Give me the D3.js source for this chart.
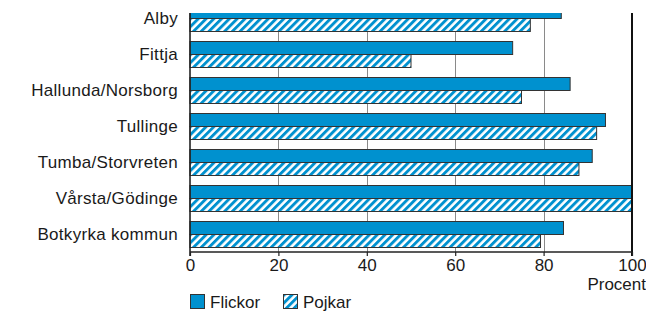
<!DOCTYPE html>
<html>
<head>
  <meta charset="utf-8" />
  <title>Flickor / Pojkar per område</title>
  <style>
    body { margin: 0; background: #fff; }
    text { font-family: "Liberation Sans", Arial, sans-serif; fill: #1a1a1a; }
    .grid line { stroke: #8a8a8a; stroke-width: 1; }
    .bar { stroke: #333; stroke-width: 1; }
  </style>
</head>
<body>
  <div id="container"></div>
  <script src="https://d3js.org/d3.v7.min.js"></script>
  <script>

// data
var areas = ["Alby", "Fittja", "Hallunda/Norsborg", "Tullinge", "Tumba/Storvreten", "Vårsta/Gödinge", "Botkyrka kommun"];
var series = ["Flickor", "Pojkar"];
var flickor = [84, 73, 86, 94, 91, 100, 84.5];
var pojkar  = [77, 50, 75, 92, 88, 100, 79.3];
var ticks = [0, 20, 40, 60, 80, 100];

var w = 646, h = 311;
var mLeft = 190, mRight = 632, mTop = 0, axisY = 252;
var fs = 17;
var blue = "#0091cf";

var svg = d3.select("#container").append("svg")
  .attr("width", w)
  .attr("height", h);

var defs = svg.append("defs");
var pat = defs.append("pattern")
  .attr("id", "hatch")
  .attr("patternUnits", "userSpaceOnUse")
  .attr("width", 5.5)
  .attr("height", 5.5)
  .attr("patternTransform", "rotate(45)");
pat.append("rect").attr("width", 5.5).attr("height", 5.5).attr("fill", "#fff");
pat.append("rect").attr("width", 2.9).attr("height", 5.5).attr("fill", blue);

// the original picture is cut off at the top
defs.append("clipPath").attr("id", "cut")
  .append("rect").attr("x", 0).attr("y", 13).attr("width", w).attr("height", h);

var x = d3.scaleLinear().domain([0, 100]).range([mLeft, mRight]);
var y = d3.scaleBand().domain(areas).range([mTop, axisY])
  .paddingInner(10 / 36).paddingOuter(5 / 36);
var y2 = d3.scaleBand().domain(series).range([0, y.bandwidth()]);

var g = svg.append("g").attr("clip-path", "url(#cut)");

// grid
g.append("g").attr("class", "grid")
  .selectAll("line")
  .data(ticks.slice(1, -1))
  .join("line")
  .attr("x1", d => Math.round(x(d)) + 0.5)
  .attr("x2", d => Math.round(x(d)) + 0.5)
  .attr("y1", 0)
  .attr("y2", axisY);

var rows = areas.map((a, i) => ({ area: a, vals: [flickor[i], pojkar[i]] }));

var grp = g.selectAll(".row")
  .data(rows)
  .join("g")
  .attr("class", "row")
  .attr("transform", d => "translate(0," + y(d.area) + ")");

grp.selectAll("rect")
  .data(d => d.vals.map((v, j) => ({ s: series[j], v: v })))
  .join("rect")
  .attr("class", "bar")
  .attr("x", x(0))
  .attr("y", d => y2(d.s) + 0.5)
  .attr("width", d => x(d.v) - x(0))
  .attr("height", y2.bandwidth())
  .attr("fill", d => d.s == "Flickor" ? blue : "url(#hatch)");

// frame: left and right lines
g.append("line")
  .attr("x1", x(0)).attr("x2", x(0))
  .attr("y1", 0).attr("y2", axisY + 4)
  .attr("stroke", "#222").attr("stroke-width", 1.6);
g.append("line")
  .attr("x1", x(100)).attr("x2", x(100))
  .attr("y1", 0).attr("y2", axisY + 4)
  .attr("stroke", "#111").attr("stroke-width", 2);

// x axis
var xAxis = svg.append("g")
  .attr("transform", "translate(0," + axisY + ")")
  .call(d3.axisBottom(x).tickValues(ticks).tickSize(4).tickPadding(3));
xAxis.select(".domain").attr("stroke", "#222").attr("stroke-width", 1.6)
  .attr("d", "M" + x(0) + ",0H" + x(100));
xAxis.selectAll(".tick line").attr("stroke", "#222").attr("stroke-width", 1.2);
xAxis.selectAll(".tick text")
  .attr("font-size", fs)
  .attr("font-family", "Liberation Sans, Arial, sans-serif")
  .attr("fill", "#1a1a1a");

svg.append("text")
  .attr("x", 646)
  .attr("y", 290)
  .attr("text-anchor", "end")
  .attr("font-size", fs)
  .text("Procent");

// category labels
svg.append("g").selectAll("text")
  .data(areas)
  .join("text")
  .attr("x", 178)
  .attr("y", d => y(d) + y.bandwidth() / 2 + 6)
  .attr("text-anchor", "end")
  .attr("font-size", fs)
  .attr("letter-spacing", 0.3)
  .text(d => d);

// legend
var leg = svg.append("g").attr("transform", "translate(190,294)");
var items = leg.selectAll("g")
  .data(series)
  .join("g")
  .attr("transform", (d, i) => "translate(" + (i * 93) + ",0)");
items.append("rect")
  .attr("class", "bar")
  .attr("x", 0.5).attr("y", 0.5)
  .attr("width", 14).attr("height", 14)
  .attr("fill", d => d == "Flickor" ? blue : "url(#hatch)");
items.append("text")
  .attr("x", 20)
  .attr("y", 14)
  .attr("font-size", fs)
  .text(d => d);

  </script>
</body>
</html>
